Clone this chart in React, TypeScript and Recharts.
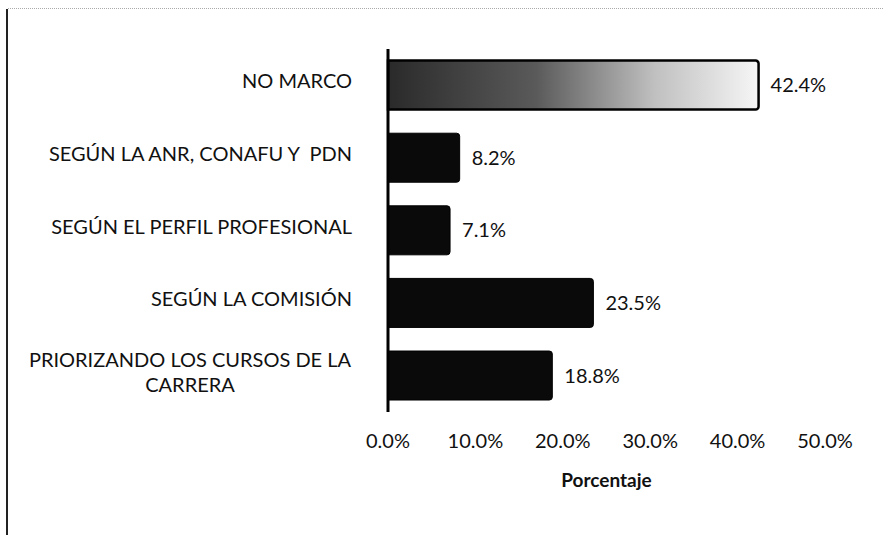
import { BarChart, Bar, XAxis, YAxis, Cell, LabelList } from 'recharts';

const categories = [
  'NO MARCO',
  'SEGÚN LA ANR, CONAFU Y  PDN',
  'SEGÚN EL PERFIL PROFESIONAL',
  'SEGÚN LA COMISIÓN',
  'PRIORIZANDO LOS CURSOS DE LA CARRERA',
];
const values = [42.4, 8.2, 7.1, 23.5, 18.8];
const xTicks = [0, 10, 20, 30, 40, 50];

const FONT = 'Lato, "Open Sans", sans-serif';
const FS = 20;

const data = categories.map((name, i) => ({ name, value: values[i] }));

// wrap long labels the way Excel does (about 28 chars a line)
function wrap(text: string, max = 28): string[] {
  const words = text.split(' ');
  const lines: string[] = [];
  let cur = '';
  for (const w of words) {
    const next = cur === '' ? w : cur + ' ' + w;
    if (next.length > max && cur !== '') {
      lines.push(cur);
      cur = w;
    } else {
      cur = next;
    }
  }
  if (cur) lines.push(cur);
  return lines;
}

const CategoryTick = ({ x, y, payload }: any) => {
  const lines = wrap(String(payload.value));
  const right = x - 28;
  if (lines.length === 1) {
    return (
      <text x={right} y={y - 4} dy={7} textAnchor="end" fontSize={FS} fontFamily={FONT} fill="#111" xmlSpace="preserve">
        {lines[0]}
      </text>
    );
  }
  const mid = right - 162;
  return (
    <text textAnchor="middle" fontSize={FS} fontFamily={FONT} fill="#111">
      {lines.map((l, i) => (
        <tspan key={i} x={mid} y={y - 16 + i * 25} dy={7}>{l}</tspan>
      ))}
    </text>
  );
};

export default function App() {
  return (
    <div
      style={{
        position: 'absolute', left: 0, top: 0, width: 883, height: 535,
        background: '#fff', overflow: 'hidden',
      }}
    >
      <div style={{ position: 'absolute', left: 6, top: 9, width: 2, height: 526, background: '#222' }} />
      <div style={{ position: 'absolute', left: 8, top: 8, width: 875, borderTop: '1px dotted #aaa' }} />
      <BarChart
        width={883}
        height={535}
        data={data}
        layout="vertical"
        barCategoryGap="16%"
        margin={{ top: 49, right: 58, bottom: 0, left: 0 }}
      >
        <defs>
          <linearGradient id="firstBar" x1="0" y1="0" x2="1" y2="0">
            <stop offset="0%" stopColor="#2a2a2a" />
            <stop offset="40%" stopColor="#5a5a5a" />
            <stop offset="72%" stopColor="#c0c0c0" />
            <stop offset="100%" stopColor="#f6f6f6" />
          </linearGradient>
        </defs>
        <XAxis
          type="number"
          domain={[0, 50]}
          ticks={xTicks}
          axisLine={false}
          tickLine={false}
          tickMargin={16}
          height={123}
          tickFormatter={(v: number) => `${v.toFixed(1)}%`}
          tick={{ fontSize: FS, fontFamily: FONT, fill: '#111' }}
          label={{
            value: 'Porcentaje', position: 'insideTop', offset: 62,
            fontSize: FS - 1, fontWeight: 700, fontFamily: FONT, fill: '#111',
          }}
        />
        <YAxis
          type="category"
          dataKey="name"
          width={388}
          axisLine={{ stroke: '#000', strokeWidth: 3 }}
          tickLine={false}
          interval={0}
          tick={<CategoryTick />}
        />
        <Bar dataKey="value" isAnimationActive={false} radius={[0, 3, 3, 0]}>
          {data.map((_, i) => (
            <Cell
              key={i}
              fill={i === 0 ? 'url(#firstBar)' : '#0a0a0a'}
              stroke="#000"
              strokeWidth={i === 0 ? 2.5 : 1}
            />
          ))}
          <LabelList
            dataKey="value"
            position="right"
            offset={12}
            formatter={(v: number) => `${v.toFixed(1)}%`}
            style={{ fontSize: FS, fontFamily: FONT, fill: '#111' }}
          />
        </Bar>
      </BarChart>
    </div>
  );
}
